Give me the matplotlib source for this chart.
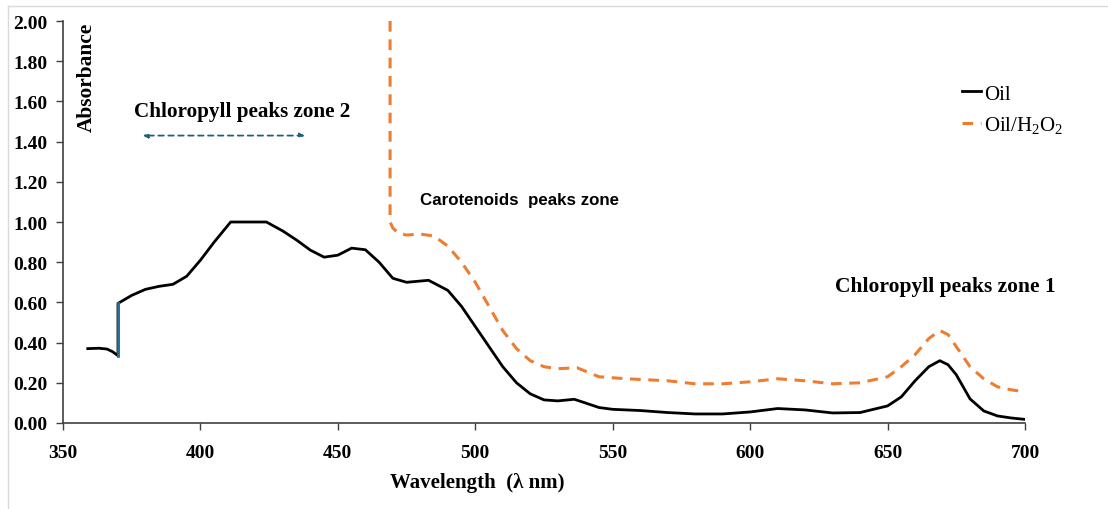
import matplotlib
matplotlib.use("Agg")
import matplotlib.pyplot as plt
from matplotlib.lines import Line2D

plt.rcParams['font.family'] = ['Liberation Serif', 'DejaVu Serif']
plt.rcParams['mathtext.fontset'] = 'custom'
plt.rcParams['mathtext.rm'] = 'Liberation Serif'
plt.rcParams['mathtext.bf'] = 'Liberation Serif:bold'

# Oil spectrum
oil_wl = [359, 363, 366, 368, 370, 370, 375, 380, 385, 390, 395, 400, 405, 411,
          424, 430, 435, 440, 445, 450, 455, 460, 465, 470, 475, 483, 490, 495,
          500, 505, 510, 515, 520, 525, 530, 536, 540, 545, 550, 560, 570, 580,
          590, 600, 610, 620, 630, 640, 650, 655, 660, 665, 669, 672, 675, 680,
          685, 690, 695, 700]
oil_abs = [0.37, 0.372, 0.368, 0.355, 0.335, 0.595, 0.635, 0.665, 0.68, 0.69,
           0.73, 0.81, 0.90, 1.00, 1.00, 0.955, 0.91, 0.86, 0.825, 0.835, 0.87,
           0.862, 0.80, 0.72, 0.70, 0.71, 0.66, 0.58, 0.48, 0.38, 0.28, 0.20,
           0.145, 0.115, 0.11, 0.118, 0.10, 0.077, 0.068, 0.062, 0.052, 0.045,
           0.045, 0.055, 0.072, 0.065, 0.05, 0.052, 0.085, 0.13, 0.21, 0.28,
           0.31, 0.29, 0.24, 0.12, 0.06, 0.035, 0.025, 0.018]

# Oil/H2O2 spectrum
ox_wl = [469, 469, 470, 472, 475, 480, 485, 490, 495, 500, 505, 510, 515, 520,
         525, 530, 537, 545, 555, 570, 580, 590, 600, 610, 620, 630, 640, 650,
         655, 660, 665, 669, 672, 676, 680, 685, 690, 695, 700]
ox_abs = [2.0, 1.0, 0.97, 0.945, 0.935, 0.94, 0.93, 0.88, 0.80, 0.70, 0.58,
          0.46, 0.37, 0.31, 0.28, 0.27, 0.275, 0.23, 0.22, 0.21, 0.195, 0.195,
          0.205, 0.22, 0.21, 0.195, 0.20, 0.23, 0.28, 0.34, 0.42, 0.46, 0.44,
          0.36, 0.28, 0.22, 0.18, 0.165, 0.155]

x_ticks = [350, 400, 450, 500, 550, 600, 650, 700]
y_ticks = [0.0, 0.2, 0.4, 0.6, 0.8, 1.0, 1.2, 1.4, 1.6, 1.8, 2.0]

fig = plt.figure(figsize=(11.08, 5.10), dpi=100)
ax = fig.add_axes([63 / 1108, 86 / 510, 962 / 1108, 402 / 510])

ax.plot(oil_wl, oil_abs, color='black', lw=2, label='Oil', zorder=3)
ax.plot(oil_wl[4:6], oil_abs[4:6], color='#1f6f9a', lw=2, zorder=4)
ax.plot(ox_wl, ox_abs, color='#ed7d31', lw=2.2, ls=(0, (3.5, 2.5)),
        label='Oil/H$_\\mathrm{2}$O$_\\mathrm{2}$', zorder=3)

ax.set_xlim(350, 700)
ax.set_ylim(0, 2.0)
ax.set_xticks(x_ticks)
ax.set_yticks(y_ticks)
ax.set_yticklabels(['%.2f' % v for v in y_ticks])
for lab in ax.get_xticklabels() + ax.get_yticklabels():
    lab.set_fontweight('bold')
ax.tick_params(labelsize=14, length=5, width=1, color='#404040', direction='out', pad=6)
ax.tick_params(axis='x', pad=10)
for s in ['top', 'right']:
    ax.spines[s].set_visible(False)
for s in ['left', 'bottom']:
    ax.spines[s].set_color('#404040')
    ax.spines[s].set_linewidth(1.2)

ax.set_xlabel('Wavelength  (λ nm)', fontsize=15, fontweight='bold', labelpad=8, x=0.431)
ax.text(358.8, 1.995, 'Absorbance', rotation=90, fontsize=15.4, fontweight='bold',
        ha='center', va='top')

ax.text(376, 1.55, 'Chloropyll peaks zone 2', fontsize=15.2, fontweight='bold',
        ha='left', va='center')
ax.annotate('', xy=(378, 1.43), xytext=(439, 1.43),
            arrowprops=dict(arrowstyle='<|-|>', color='#1f5f7a', lw=1.3,
                            ls=(0, (3, 2.5)), mutation_scale=7))
ax.text(480, 1.11, 'Carotenoids  peaks zone', fontsize=12.2, fontweight='bold',
        family='Liberation Sans', ha='left', va='center')
ax.text(631, 0.68, 'Chloropyll peaks zone 1', fontsize=15.5, fontweight='bold',
        ha='left', va='center')

leg = ax.legend(loc='upper left', bbox_to_anchor=(0.915, 0.89), frameon=False,
                handlelength=0.9, handletextpad=0.15, labelspacing=0.5,
                prop={'size': 15})

# thin grey frame lines at top and left of the figure
fig.add_artist(Line2D([8 / 1108, 1], [1 - 7 / 510, 1 - 7 / 510],
                      transform=fig.transFigure, color='#d9d9d9', lw=1))
fig.add_artist(Line2D([8 / 1108, 8 / 1108], [0, 1 - 7 / 510],
                      transform=fig.transFigure, color='#d9d9d9', lw=1))

fig.savefig('out.png', dpi=100)
